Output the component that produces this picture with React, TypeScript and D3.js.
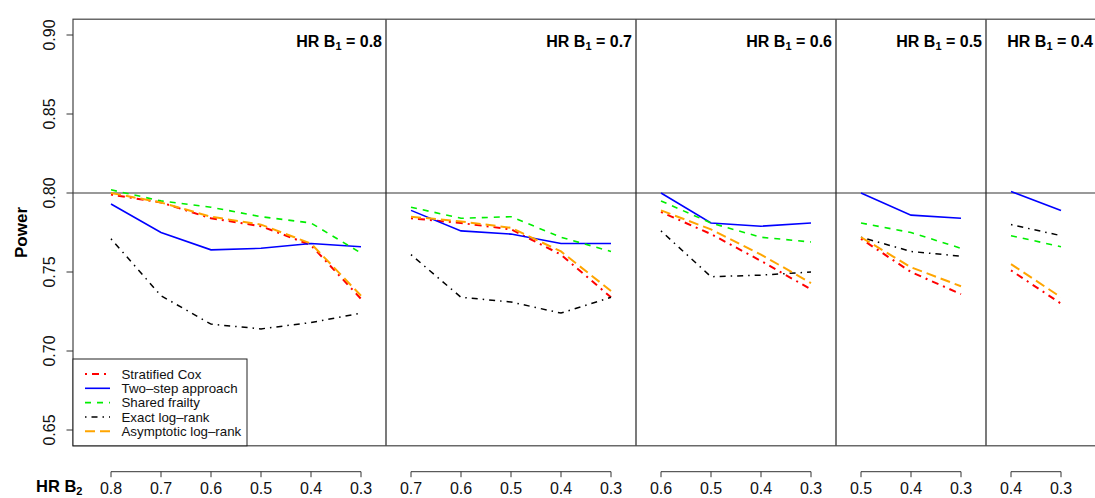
import React from "react";
import * as d3 from "d3";

// HR of stratum B1 per panel, and the HR B2 values shown under each panel
const hrB1 = [0.8, 0.7, 0.6, 0.5, 0.4];
const hrB2 = [
  [0.8, 0.7, 0.6, 0.5, 0.4, 0.3],
  [0.7, 0.6, 0.5, 0.4, 0.3],
  [0.6, 0.5, 0.4, 0.3],
  [0.5, 0.4, 0.3],
  [0.4, 0.3],
];

// power per method, one array per panel
const stratifiedCox = [
  [0.799, 0.794, 0.784, 0.779, 0.767, 0.733],
  [0.784, 0.781, 0.777, 0.761, 0.734],
  [0.788, 0.774, 0.757, 0.739],
  [0.771, 0.75, 0.736],
  [0.751, 0.73],
];
const twoStep = [
  [0.793, 0.775, 0.764, 0.765, 0.768, 0.766],
  [0.789, 0.776, 0.774, 0.768, 0.768],
  [0.8, 0.781, 0.779, 0.781],
  [0.8, 0.786, 0.784],
  [0.801, 0.789],
];
const sharedFrailty = [
  [0.802, 0.795, 0.791, 0.785, 0.781, 0.762],
  [0.791, 0.784, 0.785, 0.772, 0.763],
  [0.795, 0.781, 0.772, 0.769],
  [0.781, 0.775, 0.765],
  [0.773, 0.766],
];
const exactLogRank = [
  [0.771, 0.735, 0.717, 0.714, 0.718, 0.724],
  [0.761, 0.734, 0.731, 0.724, 0.734],
  [0.776, 0.747, 0.748, 0.75],
  [0.772, 0.763, 0.76],
  [0.78, 0.773],
];
const asymptoticLogRank = [
  [0.8, 0.794, 0.785, 0.78, 0.768, 0.735],
  [0.785, 0.782, 0.778, 0.763, 0.738],
  [0.789, 0.777, 0.761, 0.743],
  [0.772, 0.753, 0.741],
  [0.755, 0.734],
];

const yTicks = [0.65, 0.7, 0.75, 0.8, 0.85, 0.9];

const series = [
  { name: "Stratified Cox", data: stratifiedCox, color: "#ff0000", dash: "2,5,7,5", width: 2 },
  { name: "Two\u2013step approach", data: twoStep, color: "#0000ff", dash: null, width: 1.6 },
  { name: "Shared frailty", data: sharedFrailty, color: "#00ee00", dash: "6,6", width: 1.6 },
  { name: "Exact log\u2013rank", data: exactLogRank, color: "#000000", dash: "1.5,5,6,5", width: 1.5 },
  { name: "Asymptotic log\u2013rank", data: asymptoticLogRank, color: "#ffa500", dash: "10,5", width: 2 },
];

const font = "'Liberation Sans', Arial, Helvetica, sans-serif";

export default function App() {
  const width = 1095,
    height = 498;

  // offsets of each panel in the continuous index
  const starts: number[] = [];
  let acc = 1;
  hrB2.forEach((g) => {
    starts.push(acc);
    acc += g.length;
  });
  const n = acc - 1;

  const x = d3
    .scaleLinear()
    .domain([1 - 0.04 * (n - 1), n + 0.04 * (n - 1)])
    .range([73, 1099]);
  const y = d3.scaleLinear().domain([0.64, 0.91]).range([445.8, 19.2]);

  const left = x.range()[0],
    right = x.range()[1],
    top = y.range()[1],
    bottom = y.range()[0];

  const seps = starts.slice(1).map((s) => x(s - 0.5));
  const panelRight = [...seps, right];

  const line = d3
    .line<[number, number]>()
    .x((d) => x(d[0]))
    .y((d) => y(d[1]));

  const axisY = 471.7;

  const legX = left,
    legY = 359,
    legW = 174;

  return (
    <svg
      width={width}
      height={height}
      style={{ position: "absolute", left: 0, top: 0, background: "#fff" }}
      fontFamily={font}
    >
      {/* reference line */}
      <line x1={left} x2={right} y1={y(0.8)} y2={y(0.8)} stroke="#777" strokeWidth={1.6} />

      {/* series */}
      {series.map((s) =>
        s.data.map((g, gi) => (
          <path
            key={s.name + gi}
            d={line(g.map((v, i) => [starts[gi] + i, v])) || ""}
            fill="none"
            stroke={s.color}
            strokeWidth={s.width}
            strokeDasharray={s.dash || undefined}
          />
        ))
      )}

      {/* panel separators */}
      {seps.map((sx, i) => (
        <line key={"sep" + i} x1={sx} x2={sx} y1={top} y2={bottom} stroke="#222" strokeWidth={1.2} />
      ))}

      {/* box */}
      <rect x={left} y={top} width={right - left} height={bottom - top} fill="none" stroke="#444" strokeWidth={1.2} />

      {/* panel titles */}
      {hrB1.map((h, i) => (
        <text
          key={"t" + i}
          x={Math.min(panelRight[i] - 4, width - 2)}
          y={46.7}
          textAnchor="end"
          fontSize={16}
          fontWeight="bold"
        >
          HR B
          <tspan fontSize={11} dy={3.5}>1</tspan>
          <tspan dy={-3.5}>{" = " + h.toFixed(1)}</tspan>
        </text>
      ))}

      {/* y axis */}
      {yTicks.map((t) => (
        <g key={"y" + t}>
          <line x1={left - 6.5} x2={left} y1={y(t)} y2={y(t)} stroke="#333" />
          <text
            transform={`translate(55,${y(t)}) rotate(-90)`}
            textAnchor="middle"
            fontSize={16}
            fill="#111"
          >
            {t.toFixed(2)}
          </text>
        </g>
      ))}
      <text
        transform={`translate(27,${(top + bottom) / 2}) rotate(-90)`}
        textAnchor="middle"
        fontSize={17}
        fontWeight="bold"
      >
        Power
      </text>

      {/* bottom axes, one per panel */}
      {hrB2.map((g, gi) => {
        const x0 = x(starts[gi]),
          x1 = x(starts[gi] + g.length - 1);
        return (
          <g key={"ax" + gi}>
            <line x1={x0} x2={x1} y1={axisY} y2={axisY} stroke="#333" />
            {g.map((v, i) => (
              <g key={"xt" + i}>
                <line
                  x1={x(starts[gi] + i)}
                  x2={x(starts[gi] + i)}
                  y1={axisY}
                  y2={axisY + 5.5}
                  stroke="#333"
                />
                <text x={x(starts[gi] + i)} y={494} textAnchor="middle" fontSize={16} fill="#111">
                  {v.toFixed(1)}
                </text>
              </g>
            ))}
          </g>
        );
      })}
      <text x={36} y={492} fontSize={16.5} fontWeight="bold">
        HR B
        <tspan fontSize={11} dy={3}>2</tspan>
      </text>

      {/* legend */}
      <rect x={legX} y={legY} width={legW} height={bottom - legY} fill="#fff" stroke="#222" strokeWidth={1} />
      {series.map((s, i) => {
        const ly = 374 + i * 14.3;
        return (
          <g key={"lg" + i}>
            <line
              x1={85}
              x2={110}
              y1={ly}
              y2={ly}
              stroke={s.color}
              strokeWidth={s.width}
              strokeDasharray={s.dash || undefined}
            />
            <text x={121.5} y={ly + 4.6} fontSize={13.3} fill="#111">
              {s.name}
            </text>
          </g>
        );
      })}
    </svg>
  );
}
